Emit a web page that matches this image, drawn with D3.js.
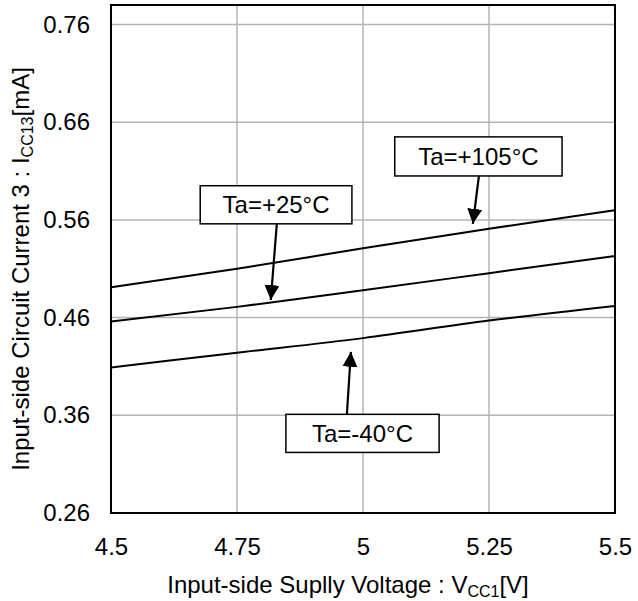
<!DOCTYPE html>
<html>
<head>
<meta charset="utf-8">
<script src="https://cdn.jsdelivr.net/npm/d3@7"></script>
<style>
  html, body { margin: 0; padding: 0; background: #fff; }
  svg text { font-family: "Liberation Sans", Arial, sans-serif; fill: #000; }
</style>
</head>
<body>
<div id="chart"></div>
<script>
// supply voltage samples [V]
const voltages = [4.5, 4.75, 5.0, 5.25, 5.5]
// ICC13 [mA] per ambient temperature
const icc105 = [0.491, 0.510, 0.531, 0.551, 0.570]
const icc25 = [0.456, 0.471, 0.488, 0.5055, 0.523]
const iccM40 = [0.409, 0.424, 0.439, 0.457, 0.472]

const xTicks = [4.5, 4.75, 5, 5.25, 5.5]
const yTicks = [0.26, 0.36, 0.46, 0.56, 0.66, 0.76]

// label boxes in data units: [x0, x1, yTop, yBottom], arrow [from x,y] -> [tip x,y]
const labels = [
  { text: 'Ta=+105°C', box: [5.063, 5.395, 0.645, 0.605], from: [5.230, 0.605], tip: [5.218, 0.556] },
  { text: 'Ta=+25°C', box: [4.677, 4.978, 0.595, 0.556], from: [4.829, 0.556], tip: [4.817, 0.478] },
  { text: 'Ta=-40°C', box: [4.847, 5.151, 0.361, 0.322], from: [4.968, 0.361], tip: [4.976, 0.425] }
]

const width = 638, height = 601
const margin = { top: 5, right: 23, bottom: 88, left: 111 }
const iw = width - margin.left - margin.right
const ih = height - margin.top - margin.bottom
const fs = 24

const svg = d3.select('#chart').append('svg').attr('width', width).attr('height', height)
const g = svg.append('g').attr('transform', `translate(${margin.left},${margin.top})`)

const x = d3.scaleLinear().domain([4.5, 5.5]).range([0, iw])
const y = d3.scaleLinear().domain([0.26, 0.78]).range([ih, 0])

// grid
g.selectAll('.vgrid').data(xTicks.slice(1, -1)).join('line')
  .attr('x1', d => x(d)).attr('x2', d => x(d)).attr('y1', 0).attr('y2', ih)
  .attr('stroke', '#b4b4b4').attr('stroke-width', 1.5)
g.selectAll('.hgrid').data(yTicks.slice(1)).join('line')
  .attr('x1', 0).attr('x2', iw).attr('y1', d => y(d)).attr('y2', d => y(d))
  .attr('stroke', '#b4b4b4').attr('stroke-width', 1.5)

// axes (labels only)
const xAxis = g.append('g').attr('transform', `translate(0,${ih})`)
  .call(d3.axisBottom(x).tickValues(xTicks).tickSize(0).tickPadding(25).tickFormat(d3.format('')))
const yAxis = g.append('g')
  .call(d3.axisLeft(y).tickValues(yTicks).tickSize(0).tickPadding(21).tickFormat(d3.format('.2f')))
for (const ax of [xAxis, yAxis]) {
  ax.select('.domain').remove()
  ax.selectAll('text').attr('font-size', fs).attr('font-family', '"Liberation Sans", Arial, sans-serif').attr('fill', '#000')
}

// curves
const line = d3.line().x((d, i) => x(voltages[i])).y(d => y(d)).curve(d3.curveMonotoneX)
for (const s of [icc105, icc25, iccM40]) {
  g.append('path').datum(s).attr('d', line)
    .attr('fill', 'none').attr('stroke', '#000').attr('stroke-width', 2)
}

// frame
g.append('rect').attr('width', iw).attr('height', ih)
  .attr('fill', 'none').attr('stroke', '#000').attr('stroke-width', 2)

// arrowhead
svg.append('defs').append('marker')
  .attr('id', 'arr').attr('markerUnits', 'userSpaceOnUse')
  .attr('markerWidth', 16).attr('markerHeight', 16)
  .attr('refX', 15).attr('refY', 7.5).attr('orient', 'auto')
  .append('path').attr('d', 'M0,0 L15,7.5 L0,15 Z').attr('fill', '#000')

// annotations
const ann = g.selectAll('.ann').data(labels).join('g')
ann.append('line')
  .attr('x1', d => x(d.from[0])).attr('y1', d => y(d.from[1]))
  .attr('x2', d => x(d.tip[0])).attr('y2', d => y(d.tip[1]))
  .attr('stroke', '#000').attr('stroke-width', 2.2).attr('marker-end', 'url(#arr)')
ann.append('rect')
  .attr('x', d => x(d.box[0])).attr('y', d => y(d.box[2]))
  .attr('width', d => x(d.box[1]) - x(d.box[0])).attr('height', d => y(d.box[3]) - y(d.box[2]))
  .attr('fill', '#fff').attr('stroke', '#000').attr('stroke-width', 1.5)
ann.append('text')
  .attr('x', d => (x(d.box[0]) + x(d.box[1])) / 2)
  .attr('y', d => (y(d.box[2]) + y(d.box[3])) / 2 + 8.5)
  .attr('text-anchor', 'middle').attr('font-size', fs)
  .text(d => d.text)

// axis titles
const xt = svg.append('text').attr('x', 348).attr('y', 593).attr('text-anchor', 'middle').attr('font-size', fs)
xt.append('tspan').text('Input-side Suplly Voltage : V')
xt.append('tspan').attr('font-size', 16).attr('dy', 4).text('CC1')
xt.append('tspan').attr('dy', -4).text('[V]')

const yt = svg.append('text').attr('transform', 'translate(29,269) rotate(-90)').attr('text-anchor', 'middle').attr('font-size', fs)
yt.append('tspan').text('Input-side Circuit Current 3 : I')
yt.append('tspan').attr('font-size', 16).attr('dy', 4).text('CC13')
yt.append('tspan').attr('dy', -4).text('[mA]')
</script>
</body>
</html>
